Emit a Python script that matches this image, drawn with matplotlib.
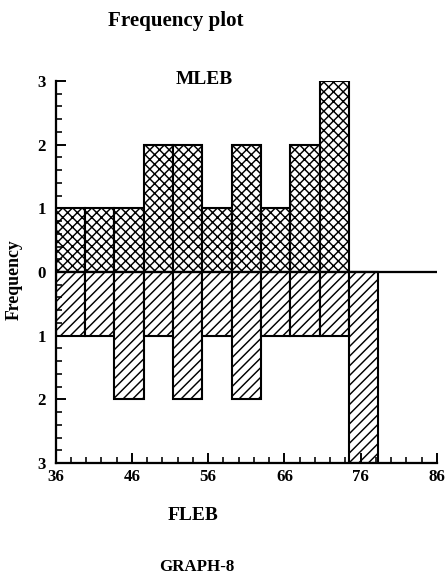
import numpy as np
import matplotlib
matplotlib.use("Agg")
import matplotlib.pyplot as plt
from matplotlib.ticker import MultipleLocator, FuncFormatter

# ---- data ----
bin_lefts = [36.0, 39.85, 43.69, 47.54, 51.38, 55.23, 59.08, 62.92, 66.77, 70.62, 74.46]
bin_width = 50 / 13
mleb_counts = [1, 1, 1, 2, 2, 1, 2, 1, 2, 3, 0]
fleb_counts = [1, 1, 2, 1, 2, 1, 2, 1, 1, 1, 3]
x_ticks = [36, 46, 56, 66, 76, 86]
y_ticks = [-3, -2, -1, 0, 1, 2, 3]

DPI = 116
plt.rcParams['hatch.linewidth'] = 0.9
serif = ['Liberation Serif', 'DejaVu Serif']

fig = plt.figure(figsize=(448 / DPI, 579 / DPI), dpi=DPI)
ax = fig.add_axes([55.5 / 448, 1 - 463 / 579, (437 - 55.5) / 448, (463 - 81) / 579])

ax.bar(bin_lefts, mleb_counts, width=bin_width, align='edge', facecolor='white',
       edgecolor='black', linewidth=1.3, hatch='xxxx')
ax.bar(bin_lefts, [-c for c in fleb_counts], width=bin_width, align='edge', facecolor='white',
       edgecolor='black', linewidth=1.3, hatch='////')
ax.axhline(0, color='black', linewidth=1.4, zorder=3)

ax.set_xlim(36, 86)
ax.set_ylim(-3, 3)
for s in ['top', 'right']:
    ax.spines[s].set_visible(False)
for s in ['left', 'bottom']:
    ax.spines[s].set_linewidth(1.4)

ax.set_xticks(x_ticks)
ax.set_yticks(y_ticks)
ax.xaxis.set_minor_locator(MultipleLocator(2))
ax.yaxis.set_minor_locator(MultipleLocator(0.2))
ax.yaxis.set_major_formatter(FuncFormatter(lambda v, p: f"{abs(int(round(v)))}"))
ax.tick_params(which='major', direction='in', length=6, width=1.2, pad=4)
ax.tick_params(axis='y', which='major', pad=6)
ax.tick_params(which='minor', direction='in', length=3.5, width=1.0)
for lab in ax.get_xticklabels() + ax.get_yticklabels():
    lab.set_fontfamily(serif)
    lab.set_fontweight('bold')
    lab.set_fontsize(10.5)

fig.text(14 / 448, 1 - 280 / 579, 'Frequency', rotation=90, ha='center', va='center',
         fontfamily=serif, fontweight='bold', fontsize=11)
fig.text(176 / 448, 1 - 21 / 579, 'Frequency plot', ha='center', va='center',
         fontfamily=serif, fontweight='bold', fontsize=13)
fig.text(204 / 448, 1 - 79 / 579, 'MLEB', ha='center', va='center',
         fontfamily=serif, fontweight='bold', fontsize=12)
fig.text(193 / 448, 1 - 515 / 579, 'FLEB', ha='center', va='center',
         fontfamily=serif, fontweight='bold', fontsize=12)
fig.text(197 / 448, 1 - 567 / 579, 'GRAPH-8', ha='center', va='center',
         fontfamily=serif, fontweight='bold', fontsize=10.5)

fig.savefig('out.png', dpi=DPI, facecolor='white')
